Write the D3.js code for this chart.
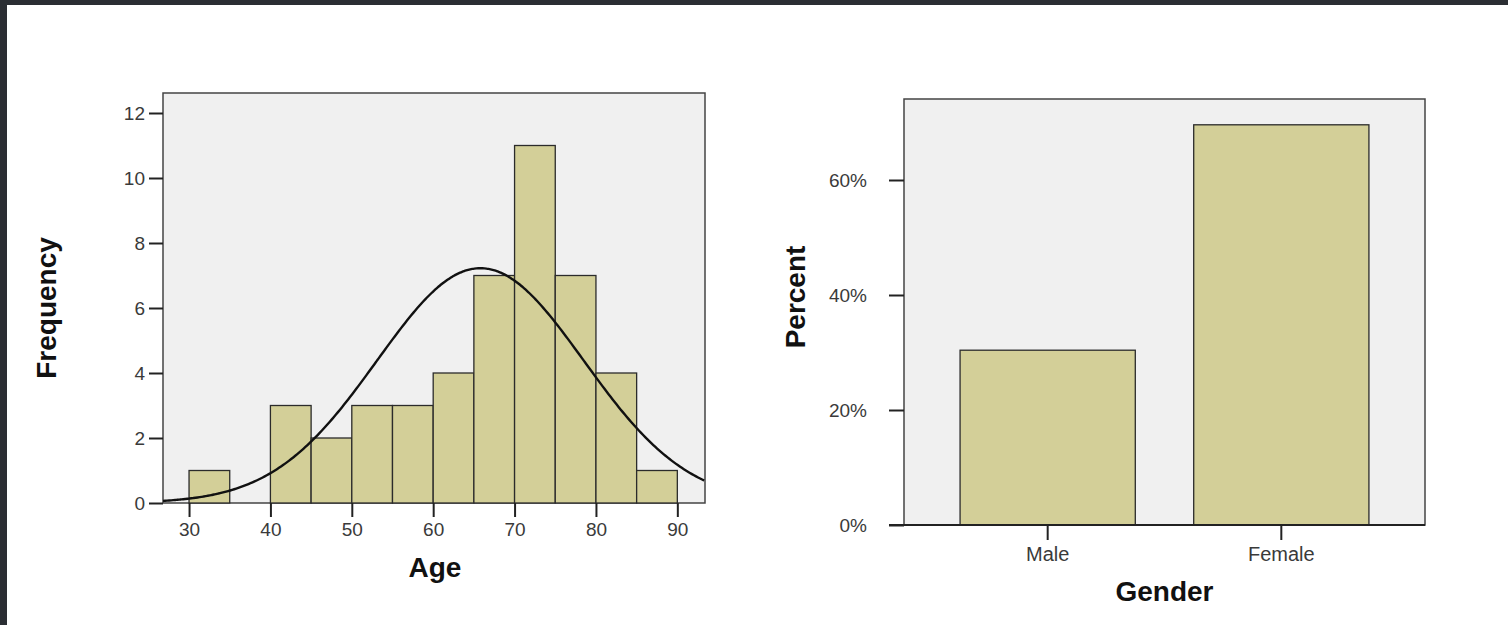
<!DOCTYPE html>
<html>
<head>
<meta charset="utf-8">
<script src="https://cdn.jsdelivr.net/npm/d3@7"></script>
<style>
    body { margin: 0; background: #2b2e33; }
    #chart { position: absolute; left: 7px; top: 5px; width: 1501px; height: 620px; background: #ffffff; }
    svg { display: block; }
    .axis-title { font-family: "Liberation Sans", Arial, sans-serif; font-size: 28px; font-weight: bold; fill: #111; }
</style>
</head>
<body>
<div id="chart"></div>
<script>
// Age histogram (bin start, count)
const ageBins = [30, 35, 40, 45, 50, 55, 60, 65, 70, 75, 80, 85];
const ageCounts = [1, 0, 3, 2, 3, 3, 4, 7, 11, 7, 4, 1];
const binWidth = 5;
const ageTicks = [30, 40, 50, 60, 70, 80, 90];
const freqTicks = [0, 2, 4, 6, 8, 10, 12];
// fitted normal curve parameters
const ageMean = 65.8;
const ageSd = 12.7;

// Gender bar chart
const genders = ["Male", "Female"];
const genderPercent = [30.4, 69.6];
const percentTicks = [0, 20, 40, 60];

const fill = "#d3cf98";

// page offset (chart div starts at 7,5)
const ox = 7, oy = 5;

const svg = d3.select("#chart")
    .append("svg")
    .attr("width", 1501)
    .attr("height", 620);

function styleAxis(sel, size) {
    sel.select(".domain").remove();
    sel.selectAll(".tick line").attr("stroke", "#222").attr("stroke-width", 2);
    sel.selectAll(".tick text")
        .attr("font-family", "Liberation Sans, Arial, sans-serif")
        .attr("font-size", size)
        .attr("fill", "#3a3a3a");
}

// ---------- Histogram ----------
function drawHistogram() {
    const left = 163 - ox, right = 705 - ox, top = 93 - oy, bottom = 503 - oy;

    const x = d3.scaleLinear().domain([26.8, 93.4]).range([left, right]);
    const y = d3.scaleLinear().domain([0, 12]).range([bottom, bottom - 12 * 32.5]);

    const g = svg.append("g");

    g.append("rect")
        .attr("x", left).attr("y", top)
        .attr("width", right - left).attr("height", bottom - top)
        .attr("fill", "#f0f0f0")
        .attr("stroke", "#444").attr("stroke-width", 1.5);

    g.selectAll(".bar")
        .data(ageBins.map((b, i) => ({ start: b, count: ageCounts[i] })).filter(d => d.count > 0))
        .enter()
        .append("rect")
        .attr("class", "bar")
        .attr("x", d => x(d.start))
        .attr("y", d => y(d.count))
        .attr("width", d => x(d.start + binWidth) - x(d.start))
        .attr("height", d => y(0) - y(d.count))
        .attr("fill", fill)
        .attr("stroke", "#2b2b2b")
        .attr("stroke-width", 1.3);

    // normal curve
    const n = d3.sum(ageCounts);
    const density = v => n * binWidth / (ageSd * Math.sqrt(2 * Math.PI)) *
        Math.exp(-0.5 * Math.pow((v - ageMean) / ageSd, 2));
    const xs = d3.range(x.domain()[0], x.domain()[1] + 0.01, 0.25);
    g.append("path")
        .datum(xs)
        .attr("fill", "none")
        .attr("stroke", "#111")
        .attr("stroke-width", 2.4)
        .attr("d", d3.line().x(d => x(d)).y(d => y(density(d))).curve(d3.curveBasis));

    // axes
    g.append("g")
        .attr("transform", `translate(${left},0)`)
        .call(d3.axisLeft(y).tickValues(freqTicks).tickSize(14).tickPadding(4))
        .call(styleAxis, 19);

    g.append("g")
        .attr("transform", `translate(0,${bottom})`)
        .call(d3.axisBottom(x).tickValues(ageTicks).tickSize(14).tickPadding(6))
        .call(styleAxis, 19);

    g.append("text")
        .attr("class", "axis-title")
        .attr("x", (left + right) / 2 + 1)
        .attr("y", 577 - oy)
        .attr("text-anchor", "middle")
        .text("Age");

    g.append("text")
        .attr("class", "axis-title")
        .attr("transform", `translate(${56 - ox},${308 - oy}) rotate(-90)`)
        .attr("text-anchor", "middle")
        .text("Frequency");
}

// ---------- Bar chart ----------
function drawBars() {
    const left = 904 - ox, right = 1425 - ox, top = 99 - oy, bottom = 525 - oy;

    const x = d3.scaleBand().domain(genders).range([left, right])
        .paddingInner(0.25).paddingOuter(0.24);
    const y = d3.scaleLinear().domain([0, 20]).range([bottom, bottom - 115]);

    const g = svg.append("g");

    g.append("rect")
        .attr("x", left).attr("y", top)
        .attr("width", right - left).attr("height", bottom - top)
        .attr("fill", "#f0f0f0")
        .attr("stroke", "#444").attr("stroke-width", 1.5);

    g.selectAll(".bar")
        .data(genders.map((k, i) => ({ key: k, value: genderPercent[i] })))
        .enter()
        .append("rect")
        .attr("x", d => x(d.key))
        .attr("y", d => y(d.value))
        .attr("width", x.bandwidth())
        .attr("height", d => y(0) - y(d.value))
        .attr("fill", fill)
        .attr("stroke", "#2b2b2b")
        .attr("stroke-width", 1.3);

    // baseline extends left of the frame
    g.append("line")
        .attr("x1", left - 15).attr("x2", right)
        .attr("y1", bottom).attr("y2", bottom)
        .attr("stroke", "#222").attr("stroke-width", 2);

    g.append("g")
        .attr("transform", `translate(${left},0)`)
        .call(d3.axisLeft(y).tickValues(percentTicks).tickSize(15).tickPadding(22)
            .tickFormat(d => d + "%"))
        .call(styleAxis, 19);

    g.append("g")
        .attr("transform", `translate(0,${bottom})`)
        .call(d3.axisBottom(x).tickSize(15).tickPadding(7))
        .call(styleAxis, 20);

    g.append("text")
        .attr("class", "axis-title")
        .attr("x", (left + right) / 2)
        .attr("y", 601 - oy)
        .attr("text-anchor", "middle")
        .text("Gender");

    g.append("text")
        .attr("class", "axis-title")
        .attr("transform", `translate(${805 - ox},${297 - oy}) rotate(-90)`)
        .attr("text-anchor", "middle")
        .text("Percent");
}

drawHistogram();
drawBars();
</script>
</body>
</html>
